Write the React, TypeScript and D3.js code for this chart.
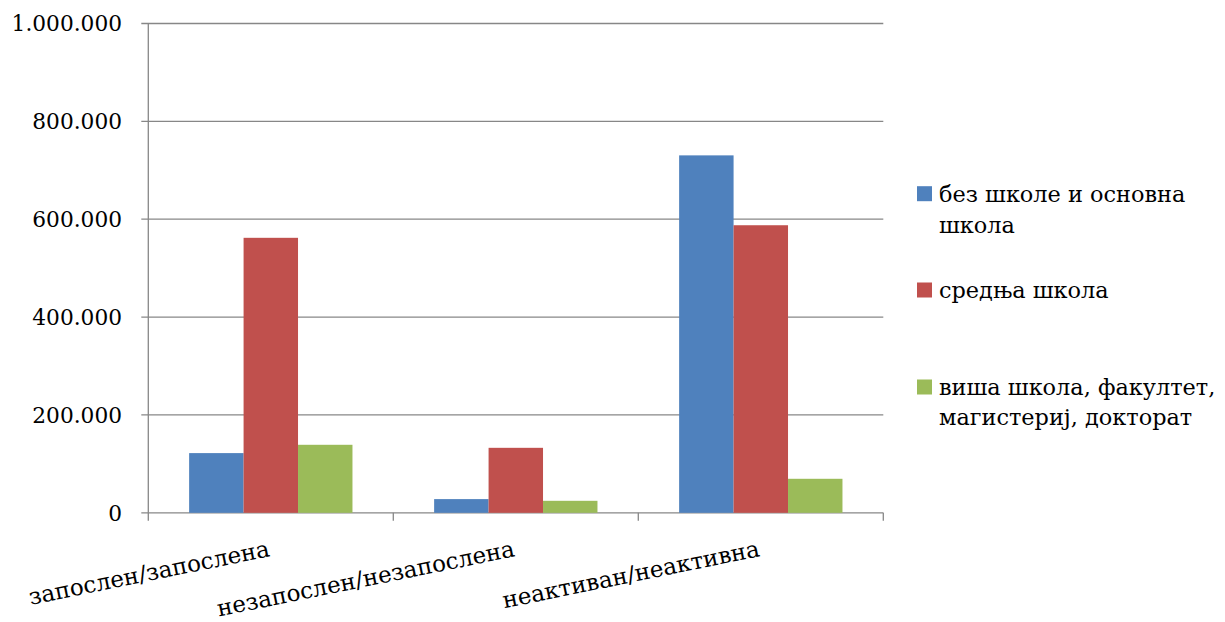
import React from "react";
import * as d3 from "d3";

const categories = ["запослен/запослена", "незапослен/незапослена", "неактиван/неактивна"];
const seriesNames = [
  ["без школе и основна", "школа"],
  ["средња школа"],
  ["виша школа, факултет,", "магистериј, докторат"],
];
const seriesColors = ["#4F81BD", "#C0504D", "#9BBB59"];
const bezSkole = [122000, 28000, 730500];
const srednja = [562000, 132800, 587700];
const visa = [139000, 24500, 69500];
const yTicks = [0, 200000, 400000, 600000, 800000, 1000000];
const yTickLabels = ["0", "200.000", "400.000", "600.000", "800.000", "1.000.000"];

const W = 1225;
const H = 622;
const plot = { left: 148.3, right: 883.3, top: 23.5, bottom: 512.8 };
const FONT = "'DejaVu Serif', serif";
const GRID = "#878787";

export default function App() {
  const series = [bezSkole, srednja, visa];
  const x = d3.scaleBand<string>().domain(categories).range([plot.left, plot.right]).paddingInner(0).paddingOuter(0);
  const bw = x.bandwidth();
  const barW = bw / 4.5;
  const x1 = d3
    .scaleBand<number>()
    .domain([0, 1, 2])
    .range([bw / 2 - 1.5 * barW, bw / 2 + 1.5 * barW]);
  const y = d3.scaleLinear().domain([0, 1000000]).range([plot.bottom, plot.top]);

  const legendBaselines = [[201.7, 233], [298], [395, 425]];

  return (
    <svg
      width={W}
      height={H}
      style={{ position: "absolute", left: 0, top: 0, background: "#fff" }}
      fontFamily={FONT}
    >
      {yTicks.map((t, i) => (
        <g key={i}>
          <line x1={plot.left - 7} x2={plot.right} y1={y(t)} y2={y(t)} stroke={GRID} strokeWidth={1.3} />
          <text x={122} y={y(t)} dy="0.36em" textAnchor="end" fontSize={21.7} fill="#000">
            {yTickLabels[i]}
          </text>
        </g>
      ))}
      <line x1={plot.left} x2={plot.left} y1={plot.top} y2={plot.bottom} stroke={GRID} strokeWidth={1.3} />
      {[...categories.map((c) => x(c) as number), plot.right].map((v, i) => (
        <line key={i} x1={v} x2={v} y1={plot.bottom} y2={plot.bottom + 8} stroke={GRID} strokeWidth={1.3} />
      ))}
      {categories.map((c, ci) =>
        series.map((s, si) => (
          <rect
            key={`${ci}-${si}`}
            x={(x(c) as number) + (x1(si) as number)}
            y={y(s[ci])}
            width={x1.bandwidth()}
            height={y(0) - y(s[ci])}
            fill={seriesColors[si]}
          />
        ))
      )}
      {categories.map((c, i) => {
        const cx = (x(c) as number) + bw / 2;
        const cy = 556;
        return (
          <text
            key={i}
            x={cx}
            y={cy}
            textAnchor="end"
            fontSize={23}
            transform={`rotate(-11.5 ${cx} ${cy})`}
            fill="#000"
          >
            {c}
          </text>
        );
      })}
      {seriesNames.map((lines, i) => (
        <g key={i}>
          <rect x={917} y={legendBaselines[i][0] - 15.5} width={15} height={15} fill={seriesColors[i]} />
          {lines.map((ln, j) => (
            <text key={j} x={939} y={legendBaselines[i][j]} fontSize={22.4} fill="#000">
              {ln}
            </text>
          ))}
        </g>
      ))}
    </svg>
  );
}
